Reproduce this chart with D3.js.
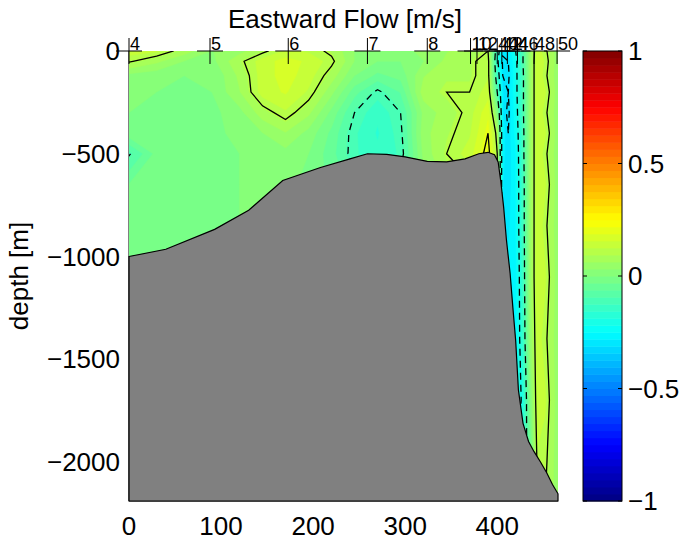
<!DOCTYPE html>
<meta charset="utf-8">
<style>

body {
  margin: 0;
  background: #fff;
}

text {
  font-family: "Liberation Sans", Arial, Helvetica, sans-serif;
  fill: #000;
}

</style>
<svg width="685" height="541"></svg>
<script src="https://cdn.jsdelivr.net/npm/d3@7"></script>
<script>

// section grid: distance along track (km) and depth (m)
const gridKm = [0, 30, 60, 90, 120, 145, 170, 195, 220, 245, 270, 295, 320, 345, 370, 390, 400, 406, 412, 420, 428, 436, 444, 452, 466];
const gridDepth = [0, -50, -120, -200, -300, -400, -500, -650, -850, -1100, -1400, -1700, -2000, -2190];

// eastward velocity (m/s), one row per depth
const flow = [
  [0.14, 0.13, 0.08, 0.03, 0.05, 0.09, 0.13, 0.12, 0.09, 0.03, 0.01, 0.02, 0.04, 0.06, 0.08, 0.10, -0.15, -0.29, -0.28, -0.20, -0.10, 0.05, 0.14, 0.11, 0.04],
  [0.105, 0.07, 0.03, 0.02, 0.09, 0.14, 0.17, 0.15, 0.11, 0.03, 0.00, 0.00, 0.03, 0.07, 0.09, 0.12, -0.18, -0.31, -0.30, -0.22, -0.10, 0.05, 0.15, 0.12, 0.04],
  [0.02, 0.01, 0.00, 0.00, 0.07, 0.14, 0.17, 0.14, 0.08, 0.00, -0.04, -0.02, 0.06, 0.09, 0.09, 0.12, -0.15, -0.30, -0.31, -0.22, -0.11, 0.05, 0.15, 0.11, 0.04],
  [0.01, 0.00, -0.02, 0.00, 0.06, 0.14, 0.16, 0.12, 0.04, -0.05, -0.11, -0.06, 0.08, 0.10, 0.10, 0.14, -0.10, -0.28, -0.30, -0.22, -0.11, 0.05, 0.15, 0.13, 0.04],
  [0.00, -0.02, -0.03, -0.01, 0.02, 0.08, 0.12, 0.07, -0.01, -0.10, -0.15, -0.10, 0.04, 0.08, 0.11, 0.18, 0.00, -0.28, -0.31, -0.23, -0.11, 0.05, 0.15, 0.11, 0.04],
  [-0.01, -0.02, -0.03, -0.01, 0.01, 0.03, 0.06, 0.02, -0.04, -0.12, -0.16, -0.11, 0.05, 0.09, 0.12, 0.20, 0.08, -0.27, -0.30, -0.24, -0.12, 0.05, 0.15, 0.13, 0.04],
  [-0.105, -0.02, -0.02, -0.01, 0.00, 0.01, 0.02, 0.00, -0.05, -0.12, -0.15, -0.12, 0.04, 0.10, 0.14, 0.22, 0.10, -0.27, -0.30, -0.25, -0.12, 0.05, 0.15, 0.11, 0.04],
  [-0.03, -0.03, -0.02, -0.01, 0.00, 0.01, 0.01, -0.01, -0.04, -0.08, -0.10, -0.08, 0.02, 0.07, 0.09, 0.14, 0.10, -0.28, -0.30, -0.25, -0.13, 0.05, 0.15, 0.13, 0.04],
  [-0.02, -0.02, -0.02, -0.01, 0.00, 0.00, 0.00, -0.01, -0.03, -0.05, -0.06, -0.05, 0.00, 0.04, 0.06, 0.08, 0.05, -0.28, -0.29, -0.25, -0.13, 0.05, 0.15, 0.11, 0.04],
  [-0.02, -0.02, -0.02, -0.01, 0.00, 0.00, 0.00, 0.00, -0.02, -0.03, -0.04, -0.03, 0.00, 0.02, 0.03, 0.04, 0.02, -0.25, -0.27, -0.26, -0.14, 0.05, 0.15, 0.13, 0.04],
  [-0.02, -0.02, -0.02, -0.01, 0.00, 0.00, 0.00, 0.00, -0.02, -0.03, -0.04, -0.03, 0.00, 0.02, 0.03, 0.03, 0.00, -0.20, -0.25, -0.26, -0.15, 0.04, 0.14, 0.11, 0.04],
  [-0.02, -0.02, -0.02, -0.01, 0.00, 0.00, 0.00, 0.00, -0.02, -0.03, -0.04, -0.03, 0.00, 0.02, 0.03, 0.03, 0.00, -0.20, -0.23, -0.23, -0.19, 0.00, 0.14, 0.13, 0.04],
  [-0.02, -0.02, -0.02, -0.01, 0.00, 0.00, 0.00, 0.00, -0.02, -0.03, -0.04, -0.03, 0.00, 0.02, 0.03, 0.03, 0.00, -0.20, -0.20, -0.20, -0.15, -0.05, 0.12, 0.11, 0.04],
  [-0.02, -0.02, -0.02, -0.01, 0.00, 0.00, 0.00, 0.00, -0.02, -0.03, -0.04, -0.03, 0.00, 0.02, 0.03, 0.03, 0.00, -0.20, -0.20, -0.20, -0.15, -0.05, 0.10, 0.10, 0.04]
];

// sea floor
const floorKm = [0, 40, 93, 130, 167, 208, 240, 259, 280, 300, 324, 345, 365, 380, 390, 397, 401, 404, 407, 410, 414, 417, 420, 423, 428, 434, 440, 447, 454, 460, 466];
const floorDepth = [-1000, -965, -868, -775, -630, -567, -525, -500, -503, -515, -537, -540, -525, -500, -493, -505, -540, -640, -762, -920, -1083, -1250, -1408, -1650, -1812, -1900, -1950, -2000, -2055, -2110, -2155];

// CTD stations along the top
const stationNames = ["4", "5", "6", "7", "8", "10", "12", "40", "42", "44", "46", "48", "50"];
const stationKm = [0, 88, 173, 259, 324, 371, 378, 400, 405, 411, 422, 440, 465];

const xTicks = [0, 100, 200, 300, 400];
const yTicks = [0, -500, -1000, -1500, -2000];
const colorTicks = [-1, -0.5, 0, 0.5, 1];
const solidLevels = [0.1, 0.2, 0.3];
const dashLevels = [-0.1, -0.2, -0.3];

const plot = {left: 129, right: 558, top: 51, bottom: 501};
const fontSize = 26;

const svg = d3.select("svg");

const x = d3.scaleLinear().domain([0, 466]).range([plot.left, plot.right]);
const y = d3.scaleLinear().domain([0, -2190]).range([plot.top, plot.bottom]);

// matlab "jet"
const jet = d3.scaleLinear()
  .domain([-1, -0.75, -0.25, 0.25, 0.75, 1])
  .range(["#000080", "#0000ff", "#00ffff", "#ffff00", "#ff0000", "#800000"])
  .clamp(true);

// pad the grid by one cell all round so contour rings close outside the plot
const nx = gridKm.length, ny = gridDepth.length;
const pw = nx + 2, ph = ny + 2;
const padded = new Array(pw * ph);
for (let j = 0; j < ph; j++) {
  for (let i = 0; i < pw; i++) {
    const jj = Math.max(0, Math.min(ny - 1, j - 1));
    const ii = Math.max(0, Math.min(nx - 1, i - 1));
    padded[j * pw + i] = flow[jj][ii];
  }
}

// grid index -> km / depth (piecewise linear)
const kmAt = d3.scaleLinear().domain(d3.range(nx)).range(gridKm);
const depthAt = d3.scaleLinear().domain(d3.range(ny)).range(gridDepth);

const proj = d3.geoTransform({
  point: function(px, py) {
    this.stream.point(x(kmAt(px - 1.5)), y(depthAt(py - 1.5)));
  }
});
const path = d3.geoPath(proj);

svg.append("defs").append("clipPath")
    .attr("id", "clip")
  .append("rect")
    .attr("x", plot.left)
    .attr("y", plot.top)
    .attr("width", plot.right - plot.left)
    .attr("height", plot.bottom - plot.top);

// axis lines sit under the field, as in matlab
svg.append("path")
  .attr("d", `M${plot.left},${plot.top}V${plot.bottom}H${plot.right}`)
  .attr("fill", "none")
  .attr("stroke", "#000");

const field = svg.append("g").attr("clip-path", "url(#clip)");

// filled colour bands, 64 levels
const bandEdges = d3.range(0, 64).map(k => -1 + k / 32);
const bands = d3.contours().size([pw, ph]).thresholds(bandEdges)(padded);

field.selectAll(".band")
  .data(bands)
  .enter().append("path")
    .attr("class", "band")
    .attr("d", path)
    .attr("fill", d => jet(d.value + 1 / 64))
    .attr("stroke", d => jet(d.value + 1 / 64))
    .attr("stroke-width", 0.5);

// contour lines
const isoLines = d3.contours().size([pw, ph]).thresholds(solidLevels.concat(dashLevels))(padded);

field.selectAll(".iso")
  .data(isoLines)
  .enter().append("path")
    .attr("class", "iso")
    .attr("d", path)
    .attr("fill", "none")
    .attr("stroke", "#000")
    .attr("stroke-width", 1.3)
    .attr("stroke-dasharray", d => d.value < 0 ? "7,5" : null);

// sea floor patch
const floorPts = floorKm.map((k, i) => [x(k), y(floorDepth[i])]);
floorPts.push([x(466), y(-2190)], [x(0), y(-2190)]);

svg.append("path")
  .attr("d", d3.line()(floorPts) + "Z")
  .attr("fill", "#808080")
  .attr("stroke", "#000")
  .attr("stroke-width", 1.2);

// station markers
const stations = svg.append("g");
stationNames.forEach((name, i) => {
  const sx = x(stationKm[i]);
  stations.append("path")
    .attr("d", `M${sx - 13},${plot.top}H${sx + 13}M${sx},${plot.top - 13}V${plot.top + 13}`)
    .attr("stroke", "#000")
    .attr("stroke-width", 1);
  stations.append("text")
    .attr("x", sx + 1)
    .attr("y", plot.top - 1)
    .attr("font-size", 18)
    .text(name);
});

// axis labels
svg.append("g").selectAll("text")
  .data(xTicks)
  .enter().append("text")
    .attr("x", d => x(d))
    .attr("y", 535)
    .attr("text-anchor", "middle")
    .attr("font-size", fontSize)
    .text(d3.format("d"));

svg.append("g").selectAll("text")
  .data(yTicks)
  .enter().append("text")
    .attr("x", 120)
    .attr("y", d => y(d))
    .attr("dy", "0.35em")
    .attr("text-anchor", "end")
    .attr("font-size", fontSize)
    .text(d3.format("d"));

svg.append("text")
  .attr("transform", "translate(28,276) rotate(-90)")
  .attr("text-anchor", "middle")
  .attr("font-size", fontSize)
  .text("depth [m]");

svg.append("text")
  .attr("x", 345)
  .attr("y", 28)
  .attr("text-anchor", "middle")
  .attr("font-size", fontSize)
  .text("Eastward Flow [m/s]");

// colour bar
const cb = {left: 583, right: 622};
const c = d3.scaleLinear().domain([-1, 1]).range([plot.bottom, plot.top]);

svg.append("g").selectAll("rect")
  .data(bandEdges)
  .enter().append("rect")
    .attr("x", cb.left)
    .attr("y", d => c(d + 1 / 32))
    .attr("width", cb.right - cb.left)
    .attr("height", d => c(d) - c(d + 1 / 32) + 0.5)
    .attr("fill", d => jet(d + 1 / 64));

svg.append("rect")
  .attr("x", cb.left)
  .attr("y", plot.top)
  .attr("width", cb.right - cb.left)
  .attr("height", plot.bottom - plot.top)
  .attr("fill", "none")
  .attr("stroke", "#000");

const cbTicks = svg.append("g");
colorTicks.forEach(v => {
  cbTicks.append("path")
    .attr("d", `M${cb.left},${c(v)}h4M${cb.right},${c(v)}h-4`)
    .attr("stroke", "#000");
  cbTicks.append("text")
    .attr("x", cb.right + 6)
    .attr("y", c(v))
    .attr("dy", "0.35em")
    .attr("font-size", fontSize)
    .text(d3.format("")(v));
});

</script>
